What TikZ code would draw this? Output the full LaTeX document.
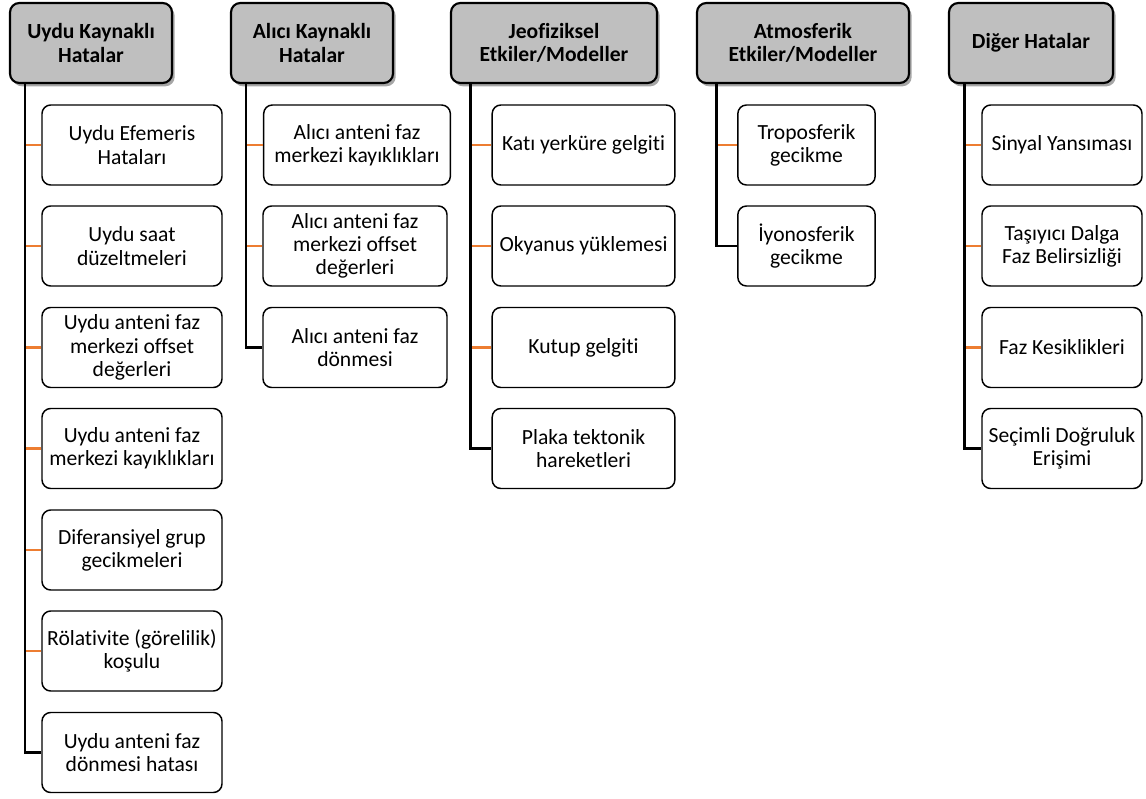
\documentclass[tikz,border=0pt]{standalone}
\usepackage{fontspec}
\setmainfont{Carlito}[Ligatures=NoCommon]
\usetikzlibrary{shadows}
\definecolor{hdrgray}{HTML}{BFBFBF}
\definecolor{orangeline}{HTML}{ED7D31}
\tikzset{
  hdr/.style={draw=black, line width=1.6pt, fill=hdrgray, rounded corners=7pt,
    minimum height=60pt, align=center, inner sep=1pt,
    font=\fontsize{16.2pt}{17.4pt}\selectfont\bfseries,
    drop shadow={shadow xshift=2pt, shadow yshift=-2.5pt, opacity=0.35, fill=black}},
  cbox/.style={draw=black, line width=1.1pt, fill=white, rounded corners=6.5pt,
    minimum height=60pt, align=center, inner sep=1pt,
    font=\fontsize{16.2pt}{17.4pt}\selectfont},
  blk/.style={draw=black, line width=2.1pt},
  org/.style={draw=orangeline, line width=2.2pt}
}
\begin{document}
\begin{tikzpicture}[x=0.75pt, y=-0.75pt]
\useasboundingbox (0,0) rectangle (1146,799);
% headers
\node[hdr, minimum width=121.5pt] (h1) at (91,43) {Uydu Kaynaklı\\Hatalar};
\node[hdr, minimum width=121.5pt] (h2) at (312,43) {Alıcı Kaynaklı\\Hatalar};
\node[hdr, minimum width=154.5pt] (h3) at (554,43) {Jeofiziksel\\Etkiler/Modeller};
\node[hdr, minimum width=159pt] (h4) at (803,43) {Atmosferik\\Etkiler/Modeller};
\node[hdr, minimum width=123pt] (h5) at (1031,43) {Diğer Hatalar};
% column 1
\node[cbox, minimum width=135pt] (c11) at (132,145) {Uydu Efemeris\\Hataları};
\node[cbox, minimum width=135pt] (c12) at (132,246) {Uydu saat\\düzeltmeleri};
\node[cbox, minimum width=135pt] (c13) at (132,347.5) {Uydu anteni faz\\merkezi offset\\değerleri};
\node[cbox, minimum width=135pt] (c14) at (132,448.5) {Uydu anteni faz\\merkezi kayıklıkları};
\node[cbox, minimum width=135pt] (c15) at (132,550) {Diferansiyel grup\\gecikmeleri};
\node[cbox, minimum width=135pt] (c16) at (132,651) {Rölativite (görelilik)\\koşulu};
\node[cbox, minimum width=135pt] (c17) at (132,752.5) {Uydu anteni faz\\dönmesi hatası};
% column 2
\node[cbox, minimum width=140pt] (c21) at (357,145) {Alıcı anteni faz\\merkezi kayıklıkları};
\node[cbox, minimum width=138pt] (c22) at (355,246) {Alıcı anteni faz\\merkezi offset\\değerleri};
\node[cbox, minimum width=138pt] (c23) at (355,347.5) {Alıcı anteni faz\\dönmesi};
% column 3
\node[cbox, minimum width=137pt] (c31) at (583.5,145) {Katı yerküre gelgiti};
\node[cbox, minimum width=137pt] (c32) at (583.5,246) {Okyanus yüklemesi};
\node[cbox, minimum width=137pt] (c33) at (583.5,347.5) {Kutup gelgiti};
\node[cbox, minimum width=137pt] (c34) at (583.5,448.5) {Plaka tektonik\\hareketleri};
% column 4
\node[cbox, minimum width=103pt] (c41) at (806.5,145) {Troposferik\\gecikme};
\node[cbox, minimum width=103pt] (c42) at (806.5,246) {İyonosferik\\gecikme};
% column 5
\node[cbox, minimum width=120pt] (c51) at (1062,145) {Sinyal Yansıması};
\node[cbox, minimum width=120pt] (c52) at (1062,246) {Taşıyıcı Dalga\\Faz Belirsizliği};
\node[cbox, minimum width=120pt] (c53) at (1062,347.5) {Faz Kesiklikleri};
\node[cbox, minimum width=120pt] (c54) at (1062,448.5) {Seçimli Doğruluk\\Erişimi};
% trunk anchors
\coordinate (t1) at ([xshift=12pt]h1.south west);
\coordinate (t2) at ([xshift=12pt]h2.south west);
\coordinate (t3) at ([xshift=15.5pt]h3.south west);
\coordinate (t4) at ([xshift=15.5pt]h4.south west);
\coordinate (t5) at ([xshift=12.5pt]h5.south west);
% orange branches
\foreach \c in {c11,c12,c13,c14,c15,c16} \draw[org] (\c.west) -- (\c.west -| t1);
\foreach \c in {c21,c22} \draw[org] (\c.west) -- (\c.west -| t2);
\foreach \c in {c31,c32,c33} \draw[org] (\c.west) -- (\c.west -| t3);
\foreach \c in {c41} \draw[org] (\c.west) -- (\c.west -| t4);
\foreach \c in {c51,c52,c53} \draw[org] (\c.west) -- (\c.west -| t5);
% black trunks
\draw[blk] (t1) |- (c17.west);
\draw[blk] (t2) |- (c23.west);
\draw[blk] (t3) |- (c34.west);
\draw[blk] (t4) |- (c42.west);
\draw[blk] (t5) |- (c54.west);
\end{tikzpicture}
\end{document}
